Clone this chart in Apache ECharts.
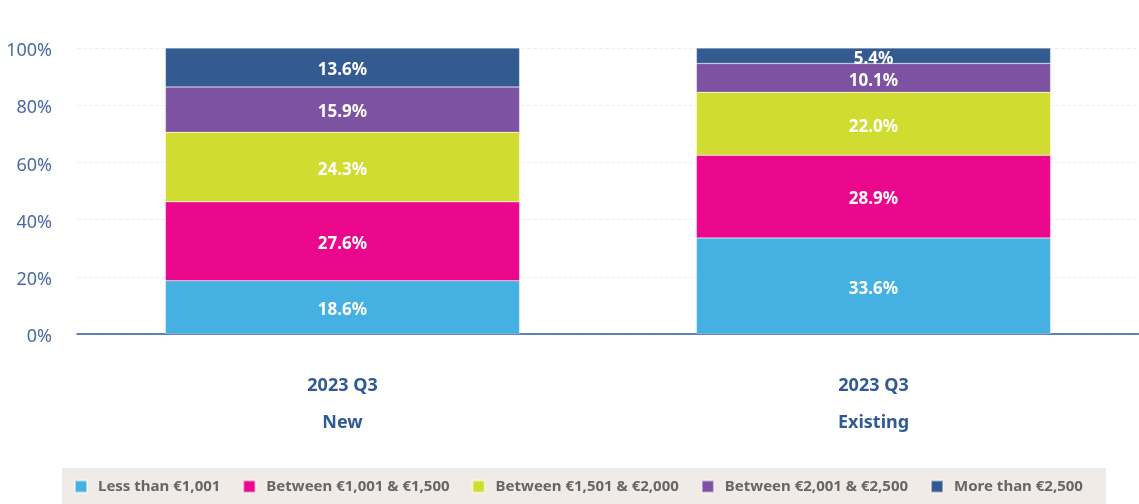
<!DOCTYPE html>
<html>
<head>
<meta charset="utf-8">
<script src="https://cdn.jsdelivr.net/npm/echarts@6/dist/echarts.min.js"></script>
<style>
  html, body { margin: 0; padding: 0; background: #fff; }
  #chart { width: 1139px; height: 504px; }
</style>
</head>
<body>
<div id="chart"></div>
<script>
var categories = ['2023 Q3\nNew', '2023 Q3\nExisting']
var seriesNames = ['Less than €1,001', 'Between €1,001 & €1,500', 'Between €1,501 & €2,000', 'Between €2,001 & €2,500', 'More than €2,500']
var lessThan1001 = [18.6, 33.6]
var between1001and1500 = [27.6, 28.9]
var between1501and2000 = [24.3, 22.0]
var between2001and2500 = [15.9, 10.1]
var moreThan2500 = [13.6, 5.4]
var colors = ['#45b0e2', '#ea078b', '#d0dc30', '#7d53a1', '#335b92']

var values = [lessThan1001, between1001and1500, between1501and2000, between2001and2500, moreThan2500]
var font = '"Noto Sans", sans-serif'

var myChart = echarts.init(document.getElementById('chart'))
var option = {
  animation: false,
  grid: { left: 77, right: 0, top: 48, bottom: 170 },
  legend: {
    bottom: 0,
    left: 62,
    backgroundColor: '#f0ebe7',
    padding: [11, 23, 10, 12],
    itemWidth: 12,
    itemHeight: 12,
    itemGap: 22,
    icon: 'rect',
    textStyle: { color: '#666', fontSize: 15, fontWeight: 'bold', fontFamily: font, padding: [0, 0, 0, 6] },
    data: seriesNames
  },
  xAxis: {
    type: 'category',
    data: categories,
    axisLine: { lineStyle: { color: '#2f5a96', width: 1.5 } },
    axisTick: { show: false },
    axisLabel: {
      margin: 33,
      lineHeight: 37,
      color: '#2f5a96',
      fontSize: 18,
      fontWeight: 'bold',
      fontFamily: font
    }
  },
  yAxis: {
    type: 'value',
    min: 0,
    max: 100,
    interval: 20,
    axisLabel: {
      formatter: '{a|{value}%}',
      margin: 25,
      rich: {
        a: { padding: [6, 0, 0, 0], color: '#4a6aa2', fontSize: 18, fontFamily: font }
      }
    },
    splitLine: { lineStyle: { color: '#eeeeee', type: 'dashed' } }
  },
  series: seriesNames.map(function (name, i) {
    return {
      name: name,
      type: 'bar',
      stack: 'total',
      barWidth: '66.7%',
      data: values[i],
      itemStyle: { color: colors[i], borderColor: 'rgba(255,255,255,0.5)', borderWidth: 0.5 },
      label: {
        show: true,
        position: 'inside',
        offset: [0, 3],
        formatter: function (p) { return p.value.toFixed(1) + '%' },
        color: '#fff',
        fontSize: 17,
        fontWeight: 'bold',
        fontFamily: font
      }
    }
  })
}
myChart.setOption(option)
</script>
</body>
</html>
